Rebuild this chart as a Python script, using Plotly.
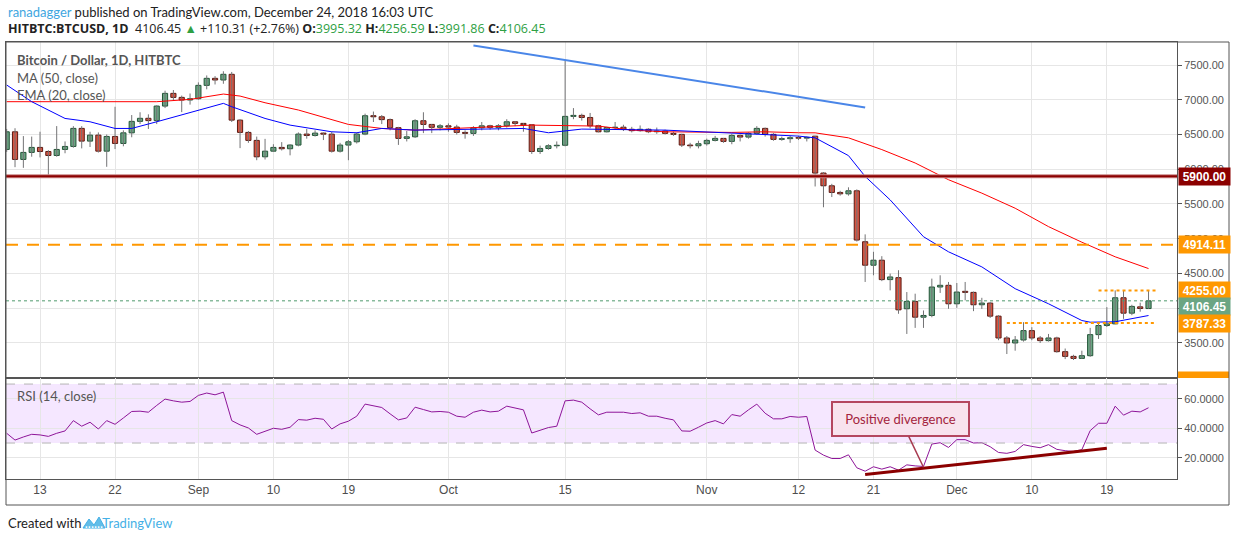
import pandas as pd
import plotly.graph_objects as go
from plotly.subplots import make_subplots

# daily candles, HITBTC BTCUSD, 9 Aug - 24 Dec 2018
opens = [6285, 6539, 6141, 6242, 6314, 6255, 6198, 6285, 6328, 6588, 6405, 6491, 6260, 6472, 6371,
         6524, 6689, 6733, 6700, 6909, 7092, 7034, 6996,
         7015, 7207, 7308, 7284, 7366, 6707, 6530, 6415, 6179, 6260, 6314, 6295, 6348, 6506, 6486,
         6520, 6505, 6260, 6348, 6395, 6506, 6770, 6755, 6714, 6598, 6444, 6467, 6698, 6645, 6603,
         6625, 6607, 6530, 6516, 6597, 6625, 6603, 6625, 6683, 6660, 6640, 6256, 6299, 6338, 6345,
         6761, 6775, 6745, 6625, 6539, 6600, 6605, 6575, 6555, 6575, 6540, 6550, 6516, 6502, 6348,
         6338,
         6367, 6415, 6444, 6401, 6487, 6463, 6516, 6588, 6502, 6430, 6440, 6454, 6448, 6476, 5945,
         5762, 5666, 5646, 5690, 4957, 4619, 4691, 4412, 4440, 3992, 4098, 3871, 3896, 4305, 4330,
         4064, 4243, 4228, 4050, 4074, 3886, 3572, 3500, 3543, 3678, 3572, 3534, 3572, 3375, 3307,
         3278, 3317, 3620, 3751, 3775, 4151, 3929, 4020, 3995.32]
highs = [6580, 6590, 6477, 6470, 6540, 6275, 6621, 6400, 6620, 6620, 6540, 6530, 6500, 6899, 6560,
         6780, 6820, 6790, 6920, 7130, 7140, 7060, 7090,
         7250, 7350, 7340, 7410, 7400, 6720, 6550, 6470, 6437, 6360, 6390, 6360, 6530, 6580, 6560,
         6530, 6540, 6380, 6420, 6530, 6800, 6830, 6780, 6730, 6610, 6550, 6720, 6820, 6650, 6650,
         6660, 6640, 6560, 6620, 6680, 6640, 6650, 6720, 6690, 6665, 6650, 6340, 6360, 6400, 7558,
         6880, 6800, 6810, 6640, 6610, 6680, 6640, 6610, 6630, 6590, 6600, 6570, 6540, 6510, 6380,
         6410,
         6440, 6480, 6450, 6510, 6500, 6530, 6620, 6600, 6520, 6470, 6480, 6480, 6470, 6480, 5960,
         5790, 5690, 5740, 5710, 5063, 4812, 4749, 4498, 4547, 4233, 4209, 3968, 4426, 4474, 4378,
         4363, 4378, 4240, 4150, 4090, 3900, 3600, 3600, 3799, 3727, 3600, 3630, 3590, 3420, 3330,
         3389, 3717, 3780, 4016, 4257, 4257, 4050, 4080, 4256.59]
lows = [6250, 6030, 6020, 6180, 6170, 5915, 6180, 6230, 6310, 6300, 6320, 6240, 6035, 6290, 6330,
        6460, 6650, 6580, 6650, 6880, 6990, 6822, 6930,
        7000, 7150, 7220, 7230, 6680, 6304, 6380, 6130, 6140, 6250, 6270, 6200, 6330, 6440, 6470,
        6420, 6240, 6240, 6130, 6370, 6490, 6680, 6650, 6560, 6350, 6400, 6450, 6520, 6520, 6560,
        6540, 6500, 6440, 6480, 6560, 6570, 6560, 6600, 6620, 6540, 6220, 6220, 6280, 6300, 6330,
        6720, 6700, 6590, 6530, 6530, 6580, 6550, 6530, 6540, 6520, 6510, 6500, 6480, 6320, 6300,
        6300,
        6340, 6400, 6380, 6360, 6400, 6440, 6500, 6470, 6410, 6410, 6380, 6420, 6400, 5752, 5453,
        5600, 5620, 5620, 4960, 4378, 4474, 4390, 4257, 3920, 3630, 3717, 3717, 3870, 4220, 3992,
        4006, 4113, 3958, 3990, 3860, 3540, 3341, 3389, 3520, 3540, 3500, 3520, 3360, 3268, 3255,
        3270, 3300, 3558, 3730, 3770, 3847, 3900, 3950, 3991.86]
closes = [6539, 6141, 6242, 6314, 6255, 6198, 6285, 6328, 6588, 6405, 6491, 6260, 6472, 6371, 6524,
          6689, 6733, 6700, 6909, 7092, 7034, 6996, 7015,
          7207, 7308, 7284, 7366, 6707, 6530, 6415, 6179, 6260, 6314, 6295, 6348, 6506, 6486, 6520,
          6505, 6260, 6348, 6395, 6506, 6770, 6755, 6714, 6598, 6444, 6467, 6698, 6645, 6603, 6625,
          6607, 6530, 6516, 6597, 6625, 6603, 6625, 6683, 6660, 6640, 6256, 6299, 6338, 6345, 6761,
          6775, 6745, 6625, 6539, 6600, 6605, 6575, 6555, 6575, 6540, 6550, 6516, 6502, 6348, 6338,
          6367,
          6415, 6444, 6401, 6487, 6463, 6516, 6588, 6502, 6430, 6440, 6454, 6448, 6458, 5945, 5762,
          5666, 5646, 5690, 4981, 4619, 4691, 4412, 4450, 3977, 4098, 3871, 3896, 4305, 4330, 4064,
          4233, 4228, 4050, 4074, 3886, 3572, 3500, 3543, 3678, 3572, 3534, 3572, 3375, 3307, 3278,
          3317, 3620, 3751, 3775, 4151, 3929, 4026, 3996.14, 4106.45]

rsi = [36.6, 32.0, 34.1, 35.9, 35.5, 34.5, 36.6, 38.2, 45.2, 41.4, 44.1, 39.5, 45.2, 42.7, 47.0,
       51.4, 51.6, 50.9, 55.5, 59.8, 58.6, 57.7, 58.2,
       62.3, 63.9, 62.7, 64.5, 45.2, 42.3, 40.2, 35.9, 38.2, 40.0, 39.3, 40.7, 45.9, 45.5, 46.8,
       46.1, 39.5, 43.0, 44.8, 48.2, 56.4, 55.0, 54.1, 49.8, 45.7, 47.0, 54.3, 52.7, 51.1, 51.4,
       50.9, 48.2, 47.5, 50.9, 52.3, 51.1, 51.6, 55.0, 53.9, 52.5, 36.8, 38.4, 40.5, 41.4, 58.6,
       59.1, 57.7, 53.2, 49.1, 50.9, 50.9, 50.9, 50.0, 50.5, 48.2, 48.2, 46.8, 45.7, 38.2, 38.0,
       40.7,
       43.6, 45.2, 43.0, 49.3, 48.2, 52.5, 56.4, 50.2, 46.4, 46.4, 48.0, 47.5, 48.0, 25.2, 21.8,
       19.5, 19.5, 22.0, 13.2, 10.9, 13.9, 12.3, 13.9, 11.6, 15.2, 14.5, 14.1, 29.3, 30.2, 27.0,
       32.3, 32.3, 30.0, 30.2, 27.5, 23.6, 23.0, 24.3, 28.9, 27.7, 26.8, 28.9, 25.7, 24.8, 24.3,
       25.5, 38.4, 43.4, 43.4, 55.0, 48.9, 51.6, 51.1, 53.9]

ma50_dates = ['2018-08-09', '2018-08-16', '2018-08-22', '2018-08-27', '2018-08-31', '2018-09-04',
              '2018-09-06', '2018-09-09', '2018-09-13', '2018-09-17', '2018-09-19', '2018-09-23',
              '2018-09-27', '2018-10-11', '2018-10-19', '2018-10-23', '2018-10-27', '2018-11-04',
              '2018-11-08', '2018-11-12', '2018-11-14', '2018-11-18', '2018-11-22', '2018-11-26',
              '2018-11-30', '2018-12-04', '2018-12-08', '2018-12-12', '2018-12-16', '2018-12-20',
              '2018-12-24']
ma50 = [6972, 6972, 6972, 6972, 7005, 7082, 7053, 6957, 6852, 6707, 6645, 6587, 6563, 6635, 6621,
        6563, 6539, 6530, 6539, 6525, 6524, 6452, 6283, 6090, 5849, 5656, 5439, 5174, 4950, 4740,
        4571]

ema20_dates = ['2018-08-09', '2018-08-12', '2018-08-16', '2018-08-19', '2018-08-22', '2018-08-24',
               '2018-08-27', '2018-09-01', '2018-09-04', '2018-09-05', '2018-09-09', '2018-09-12',
               '2018-09-17', '2018-09-20', '2018-09-23', '2018-09-27', '2018-10-10', '2018-10-13',
               '2018-10-17', '2018-10-27', '2018-11-04', '2018-11-08', '2018-11-12', '2018-11-14',
               '2018-11-18', '2018-11-20', '2018-11-23', '2018-11-27', '2018-11-30', '2018-12-04',
               '2018-12-08', '2018-12-12', '2018-12-16', '2018-12-17', '2018-12-20', '2018-12-24']
ema20 = [7212, 6972, 6731, 6683, 6587, 6587, 6683, 6852, 6948, 6900, 6731, 6635, 6539, 6525, 6587,
         6563, 6587, 6525, 6578, 6563, 6515, 6491, 6477, 6452, 6196, 5897, 5559, 5029, 4812, 4595,
         4281, 4064, 3823, 3799, 3805, 3895]

tick_dates = ['2018-08-13', '2018-08-22', '2018-09-01', '2018-09-10', '2018-09-19', '2018-10-01',
              '2018-10-15', '2018-11-01', '2018-11-12', '2018-11-21', '2018-12-01', '2018-12-10',
              '2018-12-19']
tick_text = ['13', '22', 'Sep', '10', '19', 'Oct', '15', 'Nov', '12', '21', 'Dec', '10', '19']
price_ticks = [3500, 4000, 4500, 5000, 5500, 6000, 6500, 7000, 7500]
hidden_ticks = [4000]  # sits fully under the last-price tag
rsi_ticks = [20, 40, 60]

# drawn levels
level_5900 = 5900.00
level_4914 = 4914.11
level_4255 = 4255.00
level_3787 = 3787.33
level_2974 = 2974.00
trend_start = ('2018-10-04', 7781)
trend_end = ('2018-11-20', 6890)
div_start = ('2018-11-20', 8.6)
div_end = ('2018-12-19', 26.4)

UP, UP_EDGE = '#6ba583', '#225437'
DOWN, DOWN_EDGE = '#d75442', '#5b1a13'
ORANGE = '#ff9800'
GRID = '#e6e6e6'
AXIS = '#555555'
FONT = 'Lato'


def px(x):
    return (x - 6) / 1171


def py(y):
    return (479 - y) / 437


days = pd.date_range('2018-08-09', periods=len(closes), freq='D')
rsi_days = pd.date_range('2018-08-09', periods=len(rsi), freq='D')

fig = make_subplots(rows=2, cols=1, shared_xaxes=True, vertical_spacing=0,
                    row_heights=[336 / 437, 101 / 437])

wick_x, wick_y = [], []
for d, lo, hi in zip(days, lows, highs):
    wick_x += [d, d, None]
    wick_y += [lo, hi, None]
fig.add_trace(go.Scatter(x=wick_x, y=wick_y, mode='lines', hoverinfo='skip',
                         line=dict(color='#737375', width=1)), row=1, col=1)

for rising, fill, edge in [(True, UP, UP_EDGE), (False, DOWN, DOWN_EDGE)]:
    sel = [i for i in range(len(closes)) if (closes[i] >= opens[i]) == rising]
    fig.add_trace(go.Bar(x=[days[i] for i in sel],
                         y=[abs(closes[i] - opens[i]) for i in sel],
                         base=[min(opens[i], closes[i]) for i in sel],
                         width=0.62 * 86400000,
                         marker=dict(color=fill, line=dict(color=edge, width=1))), row=1, col=1)

fig.add_trace(go.Scatter(x=ma50_dates, y=ma50, mode='lines',
                         line=dict(color='#ff0000', width=1)), row=1, col=1)
fig.add_trace(go.Scatter(x=ema20_dates, y=ema20, mode='lines',
                         line=dict(color='#0000ff', width=1)), row=1, col=1)
fig.add_trace(go.Scatter(x=rsi_days, y=rsi, mode='lines',
                         line=dict(color='#8e1599', width=1)), row=2, col=1)

# RSI band
fig.add_shape(type='rect', xref='paper', yref='y2', x0=0, x1=1, y0=30, y1=70,
              fillcolor='rgba(153,21,255,0.1)', line_width=0, layer='below')
for lvl in (30, 70):
    fig.add_shape(type='line', xref='paper', yref='y2', x0=0, x1=1, y0=lvl, y1=lvl,
                  line=dict(color='#b4b4b4', width=1, dash='dash'))

# horizontal levels
fig.add_shape(type='line', xref='paper', yref='y', x0=0, x1=1, y0=level_5900, y1=level_5900,
              line=dict(color='#c98585', width=4))
fig.add_shape(type='line', xref='paper', yref='y', x0=0, x1=1, y0=level_5900, y1=level_5900,
              line=dict(color='#8b0000', width=2))
fig.add_shape(type='line', xref='paper', yref='y', x0=0, x1=1, y0=level_4914, y1=level_4914,
              line=dict(color=ORANGE, width=2, dash='12px,9px'))
fig.add_shape(type='line', xref='paper', yref='y', x0=0, x1=1, y0=closes[-1], y1=closes[-1],
              line=dict(color='#4f9a6e', width=1, dash='dot'))
fig.add_shape(type='line', xref='x', yref='y', x0='2018-12-18', x1='2018-12-25',
              y0=level_4255, y1=level_4255, line=dict(color=ORANGE, width=2, dash='dot'))
fig.add_shape(type='line', xref='x', yref='y', x0='2018-12-07', x1='2018-12-25',
              y0=level_3787, y1=level_3787, line=dict(color=ORANGE, width=2, dash='dot'))
fig.add_shape(type='line', xref='x', yref='y', x0=trend_start[0], y0=trend_start[1],
              x1=trend_end[0], y1=trend_end[1], line=dict(color='#4a86e8', width=2))
fig.add_shape(type='line', xref='x2', yref='y2', x0=div_start[0], y0=div_start[1],
              x1=div_end[0], y1=div_end[1], line=dict(color='#8b0000', width=3))

# price tags on the right axis (the last-price tag is nudged down, as TradingView does)
tags = [(level_5900, '#8b0000', 0), (level_4914, ORANGE, 0), (level_4255, ORANGE, 0),
        (closes[-1], UP, -6), (level_3787, ORANGE, 0)]
for value, colour, shift in tags:
    fig.add_annotation(xref='paper', yref='y', x=1.0009, y=value, xanchor='left', yshift=shift,
                       text=f'<b>{value:.2f}</b>', showarrow=False, bgcolor=colour, width=49,
                       height=15, borderpad=1,
                       font=dict(family='Liberation Sans', size=12, color='white'))
fig.add_shape(type='rect', xref='paper', yref='y', x0=1.0009, x1=px(1229),
              y0=2996, y1=level_2974 + 115, fillcolor=ORANGE, line_width=0)

# outer frame
fig.add_shape(type='rect', xref='paper', yref='paper', x0=0, x1=px(1229), y0=py(505), y1=1,
              line=dict(color=AXIS, width=1))

fig.add_annotation(xref='x2', yref='y2', x='2018-11-27', y=13.6, ax='2018-11-24 06:00', ay=46.0,
                   axref='x2', ayref='y2', text='Positive divergence', showarrow=True,
                   arrowhead=0, arrowwidth=1.5, arrowcolor='#a83a50', standoff=0,
                   bgcolor='#f8e3ee', bordercolor='#b4475f', borderwidth=2, borderpad=4,
                   width=127, height=24, font=dict(family=FONT, size=13, color='#a3243d'))

# texts
change = closes[-1] - closes[-2]
green = "<span style='color:#2ea043'>"
header2 = (f'<b>HITBTC:BTCUSD, 1D</b>  {closes[-1]:.2f} {green}▲</span> '
           f'+{change:.2f} (+{change / closes[-2] * 100:.2f}%) '
           f'<b>O:</b>{green}{opens[-1]:.2f}</span> <b>H:</b>{green}{highs[-1]:.2f}</span> '
           f'<b>L:</b>{green}{lows[-1]:.2f}</span> <b>C:</b>{green}{closes[-1]:.2f}</span>')
texts = [
    (px(6), py(12), "<span style='color:#3ea6df'>ranadagger</span> published on TradingView.com,"
                    " December 24, 2018 16:03 UTC", '#222', 13, FONT),
    (px(6), py(29), header2, '#222', 12.5, 'Open Sans'),
    (px(15), py(60), '<b>Bitcoin / Dollar, 1D, HITBTC</b>', '#555', 13, FONT),
    (px(15), py(78), 'MA (50, close)', '#555', 13, FONT),
    (px(15), py(95), 'EMA (20, close)', '#555', 13, FONT),
    (px(15), py(396), 'RSI (14, close)', '#555', 13, FONT),
    (px(6), py(523), "Created with <span style='color:#ffffff'>......</span>"
                     "<span style='color:#45b0e6'>TradingView</span>", '#222', 13, FONT),
]
for x, y, t, c, s, f in texts:
    fig.add_annotation(xref='paper', yref='paper', x=x, y=y, xanchor='left', yanchor='middle',
                       text=t, showarrow=False, font=dict(family=f, size=s, color=c))

# small TradingView logo
logo = f'M {px(83)},{py(528)} L {px(89)},{py(519)} L {px(94)},{py(525)} ' \
       f'L {px(99)},{py(517)} L {px(105)},{py(528)} Z'
fig.add_shape(type='path', xref='paper', yref='paper', path=logo, fillcolor='#62bde8',
              line=dict(color='#45b0e6', width=1))

x_range = ['2018-08-08 22:00', '2018-12-27 10:00']
fig.update_xaxes(range=x_range, tickvals=tick_dates, ticktext=tick_text, showgrid=True,
                 gridcolor=GRID, showline=True, mirror=True, linecolor=AXIS, zeroline=False,
                 tickfont=dict(family='Liberation Sans', size=12, color='#4d4d4d'))
fig.update_xaxes(showticklabels=False, row=1, col=1)
fig.update_yaxes(side='right', showgrid=True, gridcolor=GRID, showline=True, mirror=True,
                 linecolor=AXIS, zeroline=False, ticks='outside', ticklen=4, tickcolor=AXIS,
                 tickfont=dict(family='Liberation Sans', size=11, color='#555'))
fig.update_yaxes(range=[2996, 7831], tickvals=price_ticks,
                 ticktext=['' if v in hidden_ticks else f'{v:.2f}' for v in price_ticks],
                 row=1, col=1)
fig.update_yaxes(range=[5.6, 74.1], tickvals=rsi_ticks,
                 ticktext=[f'{v:.4f}' for v in rsi_ticks], row=2, col=1)

fig.update_layout(width=1234, height=541, margin=dict(l=6, r=57, t=42, b=62),
                  paper_bgcolor='white', plot_bgcolor='white', showlegend=False,
                  barmode='overlay', font=dict(family=FONT))

# the page's default body margin would push the 1234x541 figure off the window
fig.write_html('out.html', config={'displayModeBar': False},
               post_script="document.body.style.margin='0';")
